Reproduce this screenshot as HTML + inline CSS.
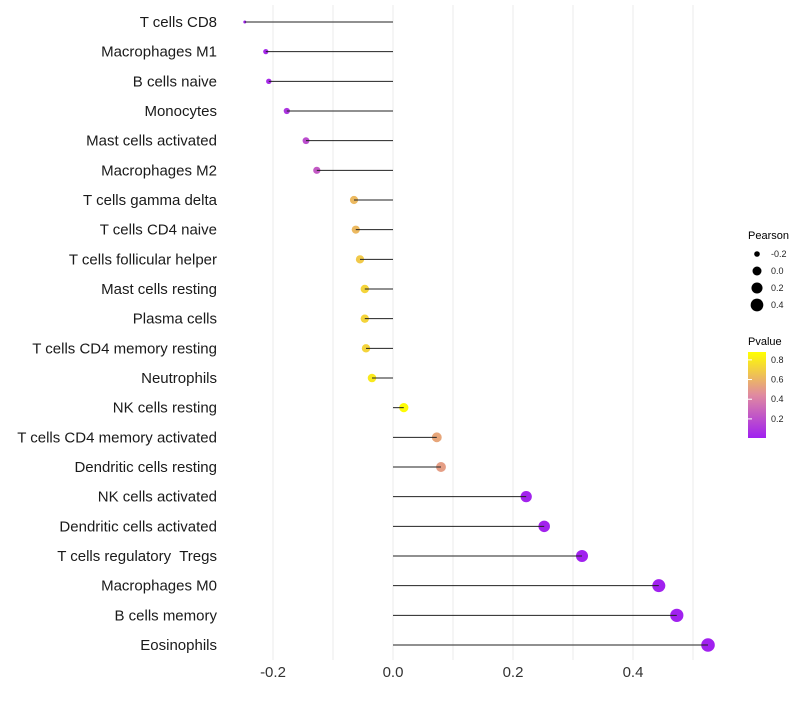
<!DOCTYPE html>
<html><head><meta charset="utf-8"><style>
body{margin:0;background:#fff;font-family:"Liberation Sans",sans-serif}
svg text{font-family:"Liberation Sans",sans-serif;white-space:pre}
</style></head><body>
<svg id="c" width="800" height="700">
<defs><linearGradient id="pg" x1="0" y1="1" x2="0" y2="0">
<stop offset="0" stop-color="#a020f0"/><stop offset="0.5" stop-color="#e08aa0"/><stop offset="1" stop-color="#ffff00"/></linearGradient></defs>
<g id="grid"></g><g id="dots"></g><g id="marks"></g><g id="ylab"></g><g id="xlab"></g>
<g>
<text x="748" y="239" font-size="11" fill="#000">Pearson</text>
<g id="sleg"></g>
</g>
<g>
<text x="748" y="345" font-size="11" fill="#000">Pvalue</text>
<rect x="748" y="352" width="18" height="86" fill="url(#pg)"/>
<g id="cleg"></g>
</g>
</svg>
<script>
const categories=["T cells CD8","Macrophages M1","B cells naive","Monocytes","Mast cells activated","Macrophages M2","T cells gamma delta","T cells CD4 naive","T cells follicular helper","Mast cells resting","Plasma cells","T cells CD4 memory resting","Neutrophils","NK cells resting","T cells CD4 memory activated","Dendritic cells resting","NK cells activated","Dendritic cells activated","T cells regulatory  Tregs","Macrophages M0","B cells memory","Eosinophils"];
const pearson=[-0.247,-0.212,-0.207,-0.177,-0.145,-0.127,-0.065,-0.062,-0.055,-0.047,-0.047,-0.045,-0.035,0.018,0.073,0.08,0.222,0.252,0.315,0.443,0.473,0.525];
const pvalue=[0.02,0.05,0.06,0.1,0.2,0.25,0.62,0.62,0.68,0.72,0.72,0.72,0.8,0.87,0.55,0.52,0.03,0.03,0.02,0.02,0.02,0.02];
const xTicks=[-0.2,0,0.2,0.4];
const xTickLabels=["-0.2","0.0","0.2","0.4"];
const sizeLegend=[-0.2,0,0.2,0.4];
const colorLegend=[0.2,0.4,0.6,0.8];
const NS="http://www.w3.org/2000/svg";
const x=v=>393+v*600;
const y=i=>22+i*(623/21);
const pmin=0.016,pmax=0.88;
const cy=p=>437-(p-pmin)/(pmax-pmin)*85;
const smin=Math.min(...pearson),smax=Math.max(...pearson);
const rad=v=>{const t=Math.max(0,(v-smin)/(smax-smin));return 1.5+Math.sqrt(t)*5.3;};
function lerp(a,b,t){return a.map((v,i)=>Math.round(v+(b[i]-v)*t));}
const stops=[[160,32,240],[224,138,160],[255,255,0]];
function col(p){let t=Math.min(1,Math.max(0,(p-pmin)/(pmax-pmin)));let c=t<0.5?lerp(stops[0],stops[1],t*2):lerp(stops[1],stops[2],(t-0.5)*2);return `rgb(${c})`;}
function mk(tag,at,par){const e=document.createElementNS(NS,tag);for(const k in at)e.setAttribute(k,at[k]);document.getElementById(par).appendChild(e);return e;}
[-0.2,-0.1,0,0.1,0.2,0.3,0.4,0.5].forEach(v=>{const g=mk('line',{x1:x(v),x2:x(v),y1:5,y2:660,stroke:'#ebebeb','stroke-width':1},'grid');

});
categories.forEach((c,i)=>{
const d=mk('circle',{cx:x(pearson[i]),cy:y(i),r:rad(pearson[i]),fill:col(pvalue[i])},'dots');


const l=mk('line',{x1:x(0),x2:x(pearson[i]),y1:y(i),y2:y(i),stroke:'#222','stroke-width':1},'marks');


const t=mk('text',{x:217,y:y(i)+5,'text-anchor':'end','font-size':15,fill:'#1a1a1a'},'ylab');t.textContent=c;


});
xTicks.forEach((v,i)=>{const t=mk('text',{x:x(v),y:677,'text-anchor':'middle','font-size':15,fill:'#333'},'xlab');t.textContent=xTickLabels[i];

});
sizeLegend.forEach((v,i)=>{const yy=254+i*17;
const d=mk('circle',{cx:757,cy:yy,r:rad(v),fill:'#000'},'sleg');


const t=mk('text',{x:771,y:yy+3,'font-size':9,fill:'#222'},'sleg');t.textContent=v.toFixed(1);

});
colorLegend.forEach(v=>{const yy=cy(v);
const m=mk('line',{x1:748,x2:752,y1:yy,y2:yy,stroke:'#fff'},'cleg');


const t=mk('text',{x:771,y:yy+3,'font-size':9,fill:'#222'},'cleg');t.textContent=v.toFixed(1);

});
</script>
</body></html>
